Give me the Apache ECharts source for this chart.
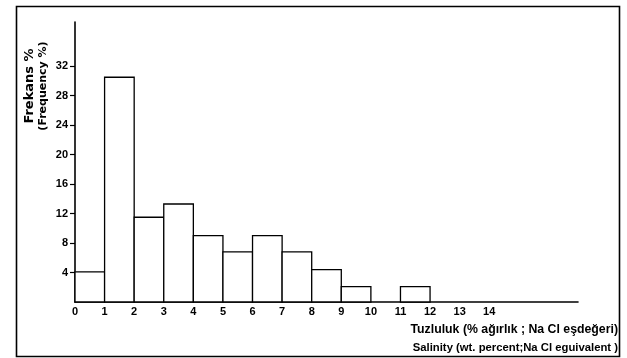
<!DOCTYPE html>
<html>
<head>
<meta charset="utf-8">
<script src="https://cdn.jsdelivr.net/npm/echarts@6/dist/echarts.min.js"></script>
<style>html,body{margin:0;padding:0;background:#fff}#c{width:627px;height:358px}</style>
</head>
<body>
<div id="c"></div>
<script>
// Histogram bins (salinity, wt.% NaCl eq.)
var binStarts = [0, 1, 2, 3, 4, 5, 6, 7, 8, 9, 10, 11];
var binWidth = 1;
var frequency = [4.1, 30.5, 11.5, 13.3, 9.0, 6.8, 9.0, 6.8, 4.4, 2.1, 0, 2.1];
var xTickLabels = [0, 1, 2, 3, 4, 5, 6, 7, 8, 9, 10, 11, 12, 13, 14];
var yTickLabels = [4, 8, 12, 16, 20, 24, 28, 32];
var yTitle1 = 'Frekans %';
var yTitle2 = '(Frequency %)';
var xTitle1 = 'Tuzluluk (% ağırlık ; Na Cl eşdeğeri)';
var xTitle2 = 'Salinity (wt. percent;Na Cl eguivalent )';

var data = binStarts.map(function (s, i) { return [s, s + binWidth, frequency[i]]; });
var font = 'Liberation Sans';
var chart = echarts.init(document.getElementById('c'));
chart.setOption({
  animation: false,
  backgroundColor: '#fff',
  grid: { left: 75, right: 49, top: 22, bottom: 56 },
  xAxis: {
    type: 'value', min: 0, max: 17,
    axisLine: { show: true, onZero: false, lineStyle: { color: '#000', width: 1.6 } },
    axisTick: { show: false },
    splitLine: { show: false },
    axisLabel: { customValues: xTickLabels, color: '#000', fontFamily: font, fontWeight: 'bold', fontSize: 11, margin: 4 }
  },
  yAxis: {
    type: 'value', min: 0, max: 38,
    axisLine: { show: true, lineStyle: { color: '#000', width: 1.6 } },
    axisTick: { show: true, customValues: yTickLabels, length: 5, lineStyle: { color: '#000', width: 1.2 } },
    splitLine: { show: false },
    axisLabel: { customValues: yTickLabels, color: '#000', fontFamily: font, fontWeight: 'bold', fontSize: 11, margin: 7 }
  },
  series: [{
    type: 'custom',
    data: data,
    encode: { x: [0, 1], y: 2 },
    renderItem: function (params, api) {
      var x0 = api.value(0), x1 = api.value(1), v = api.value(2);
      if (!v) return null;
      var p0 = api.coord([x0, 0]);
      var p1 = api.coord([x1, v]);
      return {
        type: 'rect',
        shape: { x: p0[0], y: p1[1], width: p1[0] - p0[0], height: p0[1] - p1[1] },
        style: { fill: '#fff', stroke: '#000', lineWidth: 1.3 }
      };
    }
  }],
  graphic: [
    { type: 'rect', shape: { x: 16.5, y: 6.5, width: 603, height: 350 }, style: { fill: null, stroke: '#000', lineWidth: 1.6 }, z: 10 },
    { type: 'text', x: 30, y: 86, rotation: Math.PI / 2, style: { text: yTitle1, fill: '#000', font: 'bold 13px DejaVu Sans', align: 'center', verticalAlign: 'middle' } },
    { type: 'text', x: 43, y: 86, rotation: Math.PI / 2, style: { text: yTitle2, fill: '#000', font: 'bold 11px DejaVu Sans', align: 'center', verticalAlign: 'middle' } },
    { type: 'text', x: 618, y: 330, style: { text: xTitle1, fill: '#000', font: 'bold 12.3px ' + font, align: 'right', verticalAlign: 'middle' } },
    { type: 'text', x: 618, y: 348, style: { text: xTitle2, fill: '#000', font: 'bold 11.3px ' + font, align: 'right', verticalAlign: 'middle' } }
  ]
});
</script>
</body>
</html>
